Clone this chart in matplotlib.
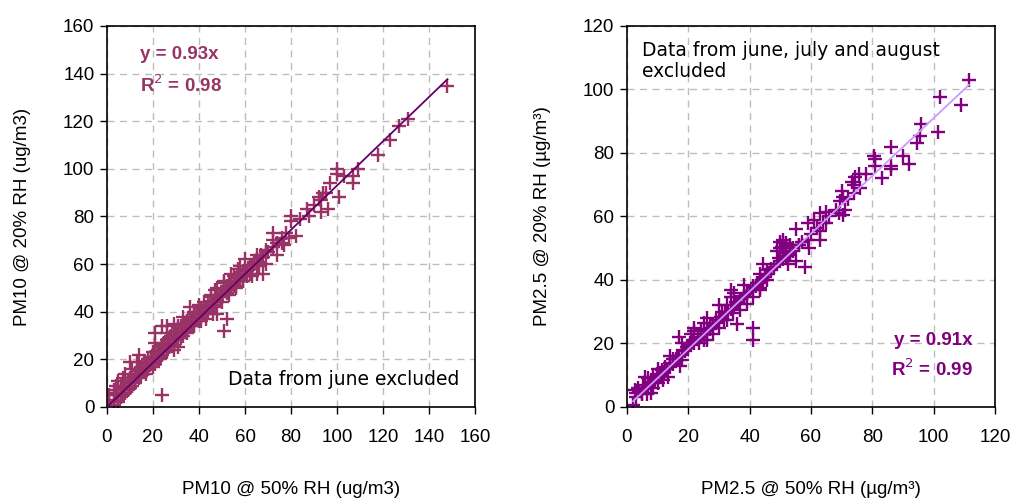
import matplotlib
matplotlib.use("Agg")
import matplotlib.pyplot as plt
import numpy as np

# PM10 panel (left): 50% RH vs 20% RH
pm10_x = [148, 131, 127, 123, 118, 109, 100, 100, 103, 107, 107, 101, 97, 92, 94, 95, 96, 93, 88, 87,
          80, 80, 84, 82, 79, 76, 77, 74, 72, 72, 69, 67, 69, 64, 58, 65, 62, 63, 61, 65,
          68, 66, 59, 55, 51, 56, 52, 51, 47, 45, 52, 54, 46, 48, 42, 40, 38, 36, 38, 40,
          43, 35, 33, 33, 31, 29, 26, 24, 21, 21, 26, 28, 31, 32, 26, 29, 31, 20, 19, 14,
          13, 10, 11, 16, 17, 23, 21, 8, 7, 5, 4, 6, 3, 4, 1, 1, 3, 5, 24, 11,
          14, 9,
          6, 8, 10, 12, 13, 15, 16, 18, 19, 21, 22, 24, 25, 27, 28, 30, 31, 33, 34, 35,
          37, 38, 39, 41, 42, 44, 45, 47, 48, 50, 52, 53, 55, 57, 58, 60, 62, 64, 66, 68,
          70, 6, 9, 12, 15, 18, 21, 24, 27, 30, 33, 36, 39, 42, 45, 48, 51, 54, 57, 60,
          3, 5, 7, 9, 11, 14, 17, 20, 23, 26, 29, 32, 35, 38, 41, 44, 47, 50, 53, 56,
          59, 62, 65,
          4, 5, 7, 8, 10, 11, 12, 13, 14, 15, 16, 17, 18, 19, 20, 21, 22, 23, 24, 25,
          26, 27, 28, 29, 30, 31, 32, 33, 34, 35, 36, 37, 38, 39, 40, 41, 42, 43, 44, 45,
          46, 47, 48, 49, 50, 51, 52, 53, 54, 55, 56, 57, 58, 59, 60, 61, 63, 65, 67, 69,
          72, 74, 76, 78, 90, 93]
pm10_y = [135, 121, 118, 112, 106, 100, 100, 98, 97, 97, 94, 88, 94, 88, 90, 90, 83, 82, 80, 83,
          80, 78, 79, 72, 71, 69, 68, 64, 73, 70, 66, 64, 60, 61, 59, 64, 59, 55, 55, 56,
          56, 59, 53, 55, 53, 51, 37, 32, 49, 46, 49, 50, 39, 39, 41, 43, 40, 42, 36, 36,
          37, 36, 38, 34, 34, 35, 34, 34, 31, 27, 31, 30, 30, 31, 25, 24, 25, 23, 21, 22,
          19, 19, 16, 19, 18, 20, 18, 14, 12, 11, 9, 9, 7, 6, 5, 3, 1, 2, 5, 11,
          13, 10,
          4, 6, 8, 10, 13, 13, 15, 16, 18, 19, 20, 22, 24, 25, 26, 28, 29, 30, 32, 33,
          34, 35, 37, 38, 39, 41, 42, 43, 45, 46, 48, 49, 51, 53, 54, 56, 58, 60, 61, 63,
          65, 8, 11, 14, 17, 20, 23, 26, 29, 32, 35, 38, 40, 44, 47, 50, 52, 56, 58, 62,
          2, 3, 5, 7, 9, 12, 14, 17, 21, 23, 26, 29, 31, 34, 36, 40, 42, 44, 47, 50,
          53, 56, 60,
          5, 6, 9, 8, 12, 11, 12, 15, 16, 15, 18, 17, 19, 21, 20, 21, 24, 24, 25, 27,
          28, 27, 30, 30, 31, 33, 34, 33, 35, 36, 35, 37, 39, 38, 40, 41, 42, 42, 43, 44,
          44, 45, 47, 46, 48, 49, 51, 52, 52, 53, 54, 55, 56, 57, 58, 57, 59, 62, 63, 65,
          67, 69, 71, 73, 85, 87]

# PM2.5 panel (right), june-august excluded
pm25_x = [111.5, 102, 109, 101.5, 96, 95.6, 94.5, 86, 90, 92, 86, 86, 83, 80.5, 81, 81, 78, 75.5, 74.5, 73.5,
          74, 70, 70.5, 69.5, 71, 69, 70.5, 65, 63, 61, 59, 65, 63, 63, 59, 59.5, 55, 58, 55, 52.5,
          53, 51, 51.5, 50, 52, 49.5, 54, 56, 50.5, 47, 44.5, 45.5, 43.5, 44.5, 42.5, 43.5, 41, 39, 38, 35,
          34, 35.5, 36.5, 32.5, 31, 30.5, 29, 31.5, 28, 27, 25, 24, 22, 21, 23, 25, 26, 17, 36, 41,
          41, 18.4, 17.8, 17.3, 16.2, 15, 14, 12.5, 11.3, 9.8, 8.5, 7, 6, 7.5, 5.3, 3.7, 2.5, 3, 4.8, 6.4,
          8, 8.6, 2, 10.2, 11.8, 13.4, 19.5, 20.5, 21.5, 23.5, 26, 28, 30, 32.5, 34.7, 36.8, 39, 41, 43.3, 45.5,
          3, 4, 5, 6, 7, 8, 9, 10, 11, 12, 13, 14, 15, 16, 17, 18, 19, 20, 21, 22,
          23, 24, 25, 26, 27, 28, 29, 30, 31, 32, 33, 34, 35, 36, 37, 38, 39, 40, 41, 42,
          43, 44, 45, 46, 47, 48, 49, 50, 51, 52, 53, 54, 56, 57, 60, 62, 64, 66, 68, 72,
          74, 76, 50, 51, 52, 49, 53, 10, 14, 18, 22, 26, 30, 34, 38]
pm25_y = [103, 97.5, 95, 86.5, 89, 85.4, 83, 82, 79, 76.5, 75, 76, 72, 79, 78, 76, 73.5, 73.5, 72.5, 71,
          70, 68, 66, 65, 62, 61, 60.5, 61.5, 61, 59, 58, 58, 55.5, 52.5, 52.5, 50, 56, 44, 46, 45,
          48, 51.5, 50, 50, 50.5, 47, 50, 51, 50.5, 43.5, 45, 43, 42, 40, 39, 37, 38, 36, 35, 36,
          34.5, 33, 32.5, 32, 30, 28.5, 27.5, 27.5, 25.5, 24.5, 26.5, 24.5, 24, 23, 22, 21, 23, 22, 26, 25,
          21, 18, 14.8, 13, 16, 15, 14, 12.5, 11.5, 10.5, 9.5, 9, 9.5, 7.5, 7, 6, 5.5, 4.5, 4, 4,
          4.5, 6, 0.5, 7.5, 8.5, 9.5, 19, 20, 21, 20, 21, 23, 25, 27.5, 29.5, 30.6, 32.5, 34.5, 37.6, 40,
          3, 5, 4.5, 6, 6.5, 8, 8, 9.5, 10, 11, 12, 12.5, 13.5, 15, 16, 16.5, 17.5, 18.5, 19.5, 20,
          21.5, 22, 23, 24, 25, 26, 26.5, 27.5, 28.5, 29.5, 30, 31, 32, 33, 34, 34.5, 35.5, 36.5, 37.5, 38,
          39, 40, 41, 42, 43, 44, 45, 46, 46.5, 47.5, 48.5, 49, 51, 52, 54.5, 56.5, 58, 60, 62, 65.5,
          67.5, 69, 52, 52.5, 51.5, 49, 51, 12, 16, 20, 25, 28, 32, 37, 38.5]

pm10_slope = 0.93
pm25_slope = 0.91
ticks_pm10 = [0, 20, 40, 60, 80, 100, 120, 140, 160]
ticks_pm25 = [0, 20, 40, 60, 80, 100, 120]

fig = plt.figure(figsize=(10.14, 4.99), dpi=100)
ax1 = fig.add_axes([0.1055, 0.1844, 0.363, 0.7635])
ax2 = fig.add_axes([0.6183, 0.1844, 0.363, 0.7635])


def style_axes(ax, ticks):
    ax.set_xlim(ticks[0], ticks[-1])
    ax.set_ylim(ticks[0], ticks[-1])
    ax.set_xticks(ticks)
    ax.set_yticks(ticks)
    ax.grid(True, color="#bdbdbd", linestyle=(0, (5, 4)), linewidth=1)
    ax.set_axisbelow(True)
    for sp in ax.spines.values():
        sp.set_color("black")
        sp.set_linewidth(1.2)
    ax.tick_params(axis="x", direction="out", length=5, width=1, labelsize=13.5, pad=11)
    ax.tick_params(axis="y", direction="out", length=5, width=1, labelsize=13.5, pad=4)
    for lab in ax.get_xticklabels() + ax.get_yticklabels():
        lab.set_fontfamily("Liberation Sans")


# left panel
ax1.plot(pm10_x, pm10_y, "+", color="#993366", markersize=10, markeredgewidth=1.7, zorder=2)
fx = np.array([0, max(pm10_x)])
ax1.plot(fx, pm10_slope * fx, color="#660066", linewidth=1.3, zorder=3)
style_axes(ax1, ticks_pm10)
ax1.set_xlabel("PM10 @ 50% RH (ug/m3)", fontsize=13.5, fontfamily="Liberation Sans", labelpad=25)
ax1.set_ylabel("PM10 @ 20% RH (ug/m3)", fontsize=13.5, fontfamily="Liberation Sans", labelpad=23)
ax1.text(0.09, 0.924, "y = 0.93x", transform=ax1.transAxes, color="#993366",
         fontsize=13.5, fontweight="bold", fontfamily="Liberation Sans", va="center")
ax1.text(0.09, 0.845, "R$^2$ = 0.98", transform=ax1.transAxes, color="#993366",
         fontsize=13.5, fontweight="bold", fontfamily="Liberation Sans", va="center")
ax1.text(0.33, 0.072, "Data from june excluded", transform=ax1.transAxes,
         fontsize=13.5, fontfamily="DejaVu Sans", va="center")

# right panel
ax2.plot(pm25_x, pm25_y, "+", color="#800080", markersize=10, markeredgewidth=1.7, zorder=2)
fx = np.array([2, max(pm25_x)])
ax2.plot(fx, pm25_slope * fx, color="#cc99ff", linewidth=1.3, zorder=3)
style_axes(ax2, ticks_pm25)
ax2.set_xlabel("PM2.5 @ 50% RH (µg/m³)", fontsize=13.5, fontfamily="Liberation Sans", labelpad=25)
ax2.set_ylabel("PM2.5 @ 20% RH (µg/m³)", fontsize=13.5, fontfamily="Liberation Sans", labelpad=23)
ax2.text(0.04, 0.909, "Data from june, july and august\nexcluded", transform=ax2.transAxes,
         fontsize=13.5, fontfamily="DejaVu Sans", va="center", linespacing=1.15)
ax2.text(0.94, 0.175, "y = 0.91x", transform=ax2.transAxes, color="#800080", ha="right",
         fontsize=13.5, fontweight="bold", fontfamily="Liberation Sans", va="center")
ax2.text(0.94, 0.098, "R$^2$ = 0.99", transform=ax2.transAxes, color="#800080", ha="right",
         fontsize=13.5, fontweight="bold", fontfamily="Liberation Sans", va="center")

fig.savefig("out.png", dpi=100)
